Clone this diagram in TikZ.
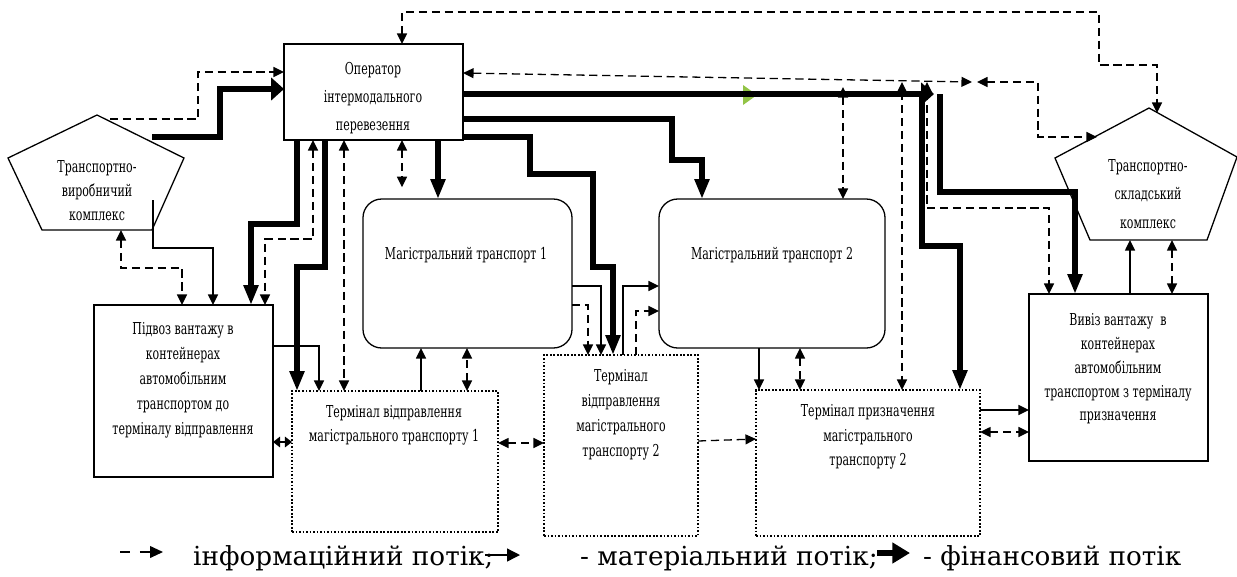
\documentclass[tikz,border=0pt]{standalone}
\usepackage{fontspec}
\setmainfont{DejaVu Serif}
\newfontfamily\narrowfont{DejaVu Serif}[FakeStretch=0.67]
\usetikzlibrary{arrows.meta,positioning}
\definecolor{markgreen}{RGB}{146,196,70}

\tikzset{
  >={Triangle[length=9pt,width=8.5pt]},
  box/.style={draw, line width=1.4pt, inner sep=0pt, outer sep=0pt},
  magbox/.style={box, line width=1.1pt, rounded corners=16pt},
  termbox/.style={draw, line width=2.2pt, dash pattern=on 1.5pt off 1.5pt, inner sep=0pt, outer sep=0pt},
  txt/.style={align=center, inner sep=0pt, font=\narrowfont\fontsize{14}{#1}\selectfont},
  txt/.default=21.3,
  legtxt/.style={anchor=base west, inner sep=0pt, font=\fontsize{22.4}{28}\selectfont},
  mat/.style={line width=1.1pt},
  info/.style={line width=1.1pt, dash pattern=on 7pt off 4pt},
  fin/.style={line width=4.6pt, -{Triangle[length=17pt,width=12pt]}},
  finh/.style={line width=4.6pt, -{Triangle[length=11pt,width=19pt]}}
}

\begin{document}
\begin{tikzpicture}[x=0.03cm, y=-0.03cm]
  \useasboundingbox (0,0) rectangle (1237,576);

  % boxes
  \node[box, minimum width=5.37cm, minimum height=2.88cm] (op) at (373.5,92) {};
  \node[box, minimum width=5.37cm, minimum height=5.16cm] (pidvoz) at (183.5,391) {};
  \node[box, minimum width=5.37cm, minimum height=5.01cm] (vyviz) at (1118.5,377.5) {};
  \node[magbox, minimum width=6.27cm, minimum height=4.47cm] (mag1) at (467.5,273.5) {};
  \node[magbox, minimum width=6.78cm, minimum height=4.47cm] (mag2) at (772,273.5) {};
  \node[termbox, minimum width=6.18cm, minimum height=4.23cm] (term1) at (395,461.5) {};
  \node[termbox, minimum width=4.62cm, minimum height=5.43cm] (term2) at (621,445.5) {};
  \node[termbox, minimum width=6.72cm, minimum height=4.38cm] (term3) at (868,463) {};

  % pentagons
  \draw[line width=1.1pt] (97,115) -- (184,158) -- (152,230) -- (42,230) -- (8,158) -- cycle;
  \draw[line width=1.1pt] (1149,108) -- (1237,157) -- (1207,240) -- (1090,240) -- (1055,158) -- cycle;

  % texts
  \node[txt=23.9] (optxt) at (373,98) {Оператор\\інтермодального\\перевезення};
  \node[txt] (pidvoztxt) at (183,380) {Підвоз вантажу в\\контейнерах\\автомобільним\\транспортом до\\терміналу відправлення};
  \node[txt=20.3] (vyviztxt) at (1118,369) {Вивіз вантажу~~в\\контейнерах\\автомобільним\\транспортом з терміналу\\призначення};
  \node[txt] (mag1txt) at (466,255) {Магістральний транспорт 1};
  \node[txt] (mag2txt) at (772,255) {Магістральний транспорт 2};
  \node[txt=20.5] (term1txt) at (394,425) {Термінал відправлення\\магістрального транспорту 1};
  \node[txt] (term2txt) at (621,415) {Термінал\\відправлення\\магістрального\\транспорту 2};
  \node[txt=20.9] (term3txt) at (868,437) {Термінал призначення\\магістрального\\транспорту 2};
  \node[txt=20.5] (tvktxt) at (97,191) {Транспортно-\\виробничий\\комплекс};
  \node[txt=24.3] (tsktxt) at (1148,194) {Транспортно-\\складський\\комплекс};

  % free ends
  \coordinate (tvk-fin) at (152,137);
  \coordinate (tvk-info) at (110,119);
  \coordinate (tvk-mat) at (153,200);
  \coordinate (tvk-down) at (121,230);
  \coordinate (tsk-top) at (1157,113);
  \coordinate (tsk-left) at (1097,137);
  \coordinate (tsk-mat) at (1130,240);
  \coordinate (tsk-info) at (1172,240);
  \coordinate (fin-a) at (922,94);
  \coordinate (fin-b) at (934,94);
  \coordinate (fin-c) at (940,94);
  \coordinate (info-l) at (972,82);
  \coordinate (info-r) at (977,82);
  \coordinate (info-a) at (843,87);
  \coordinate (info-b) at (902,82);
  \coordinate (info-c) at (927,82);

  % financial flow
  \fill[markgreen] (743,85) -- (757,95) -- (743,105) -- cycle;
  \draw[finh] (tvk-fin) -- (220,137) -- (220,89) -- (op.west |- 0,89);
  \draw[fin] (op.south -| 297,0) -- (297,224) -- (251,224) -- (pidvoz.north -| 251,0);
  \draw[fin] (op.south -| 325,0) -- (325,267) -- (297,267) -- (term1.north -| 297,0);
  \draw[fin] (op.south -| 438,0) -- (mag1.north -| 438,0);
  \draw[finh] (op.east |- 0,94) -- (fin-b);
  \draw[fin] (fin-c) -- (940,192) -- (1075,192) -- (vyviz.north -| 1075,0);
  \draw[fin] (fin-a) -- (922,246) -- (960,246) -- (term3.north -| 960,0);
  \draw[fin] (op.east |- 0,119) -- (672,119) -- (672,160) -- (702,160) -- (mag2.north -| 702,0);
  \draw[fin] (op.east |- 0,137) -- (530,137) -- (530,174) -- (593,174) -- (593,267) -- (613,267) -- (term2.north -| 613,0);

  % material flow
  \draw[mat,->] (tvk-mat) -- (153,248) -- (213,248) -- (pidvoz.north -| 213,0);
  \draw[mat,->] (pidvoz.east |- 0,346) -- (319,346) -- (term1.north -| 319,0);
  \draw[mat,->] (term1.north -| 421,0) -- (mag1.south -| 421,0);
  \draw[mat,->] (mag1.east |- 0,286) -- (601,286) -- (term2.north -| 601,0);
  \draw[mat,->] (term2.north -| 623,0) -- (623,286) -- (mag2.west |- 0,286);
  \draw[mat,->] (mag2.south -| 759,0) -- (term3.north -| 759,0);
  \draw[mat,->] (term3.east |- 0,410) -- (vyviz.west |- 0,410);
  \draw[mat,->] (vyviz.north -| 1130,0) -- (tsk-mat);

  % information flow
  \draw[info,->] (tvk-info) -- (198,119) -- (198,72) -- (op.west |- 0,72);
  \draw[info,<->] (tvk-down) -- (121,268) -- (182,268) -- (pidvoz.north -| 182,0);
  \draw[info,<->] (op.south -| 313,0) -- (313,239) -- (265,239) -- (pidvoz.north -| 265,0);
  \draw[info,<->] (op.south -| 344,0) -- (term1.north -| 344,0);
  \draw[info,<->,shorten >=10pt] (op.south -| 402,0) -- (mag1.north -| 402,0);
  \draw[info,<->] (op.north -| 402,0) -- (402,12) -- (1099,12) -- (1099,65) -- (1157,65) -- (tsk-top);
  \draw[info,<->] (op.east |- 0,73) -- (info-l);
  \draw[info,<->] (info-r) -- (1038,82) -- (1038,137) -- (tsk-left);
  \draw[info,<->] (info-a) -- (mag2.north -| 843,0);
  \draw[info,<->] (info-b) -- (term3.north -| 902,0);
  \draw[info,<->] (info-c) -- (927,208) -- (1049,208) -- (vyviz.north -| 1049,0);
  \draw[info,<->] (tsk-info) -- (vyviz.north -| 1172,0);
  \draw[info,<->] (term1.north -| 467,0) -- (mag1.south -| 467,0);
  \draw[info,->] (mag1.east |- 0,305) -- (588,305) -- (term2.north -| 588,0);
  \draw[info,->] (term2.north -| 636,0) -- (636,311) -- (mag2.west |- 0,311);
  \draw[info,<->] (term1.east |- 0,443) -- (term2.west |- 0,443);
  \draw[info,->] (term2.east |- 0,441) -- (term3.west |- 0,439);
  \draw[info,<->] (mag2.south -| 800,0) -- (term3.north -| 800,0);
  \draw[info,<->,>={Triangle[length=6pt,width=9pt]}] (pidvoz.east |- 0,442) -- (term1.west |- 0,442);
  \draw[info,<->] (term3.east |- 0,432) -- (vyviz.west |- 0,432);

  % legend
  \coordinate (leg-info-a) at (120,552);
  \coordinate (leg-info-b) at (163,552);
  \coordinate (leg-mat-a) at (485,555);
  \coordinate (leg-mat-b) at (520,555);
  \coordinate (leg-fin-a) at (877,553);
  \coordinate (leg-fin-b) at (910,553);
  \draw[info,dash pattern=on 8.5pt off 8.5pt,-{Triangle[length=11pt,width=10pt]}] (leg-info-a) -- (leg-info-b);
  \node[legtxt] (leg-info) at (193,565) {інформаційний потік;};
  \draw[mat,-{Triangle[length=11pt,width=11pt]}] (leg-mat-a) -- (leg-mat-b);
  \node[legtxt] (leg-mat) at (580,565) {- матеріальний потік;};
  \draw[line width=5.5pt,-{Triangle[length=15pt,width=17pt]}] (leg-fin-a) -- (leg-fin-b);
  \node[legtxt] (leg-fin) at (923,565) {- фінансовий потік};
\end{tikzpicture}
\end{document}
